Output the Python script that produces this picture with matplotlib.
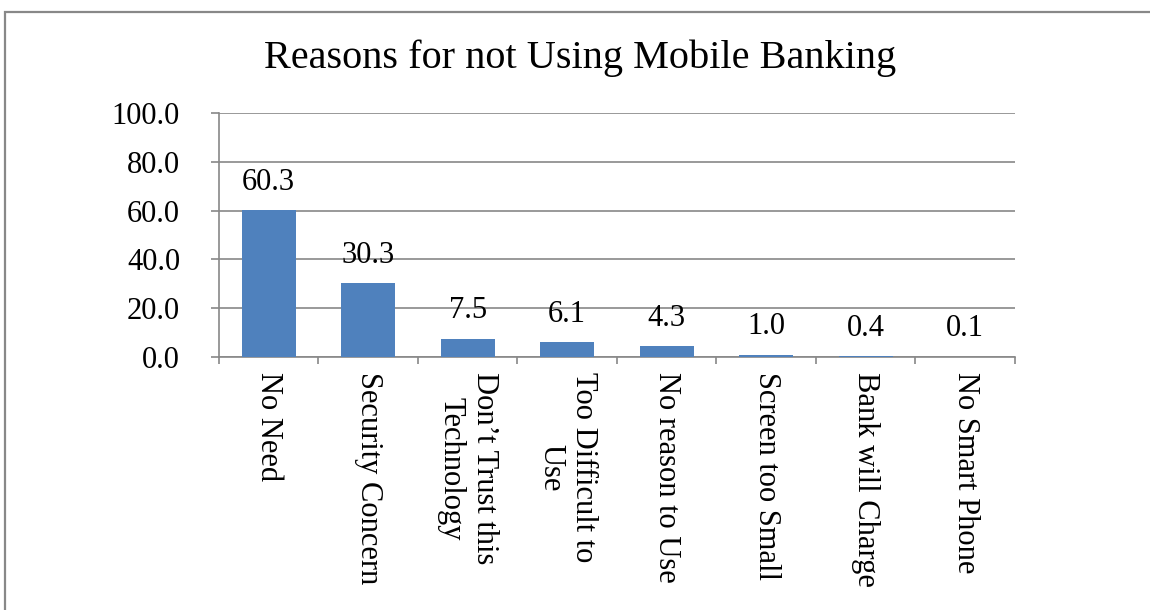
import matplotlib
matplotlib.use('Agg')
import numpy as np
from matplotlib import pyplot as plt
from matplotlib.patches import Rectangle

categories = ['No Need', 'Security Concern', 'Don\u2019t Trust this\nTechnology',
              'Too Difficult to\nUse', 'No reason to Use', 'Screen too Small',
              'Bank will Charge', 'No Smart Phone']
values = [60.3, 30.3, 7.5, 6.1, 4.3, 1.0, 0.4, 0.1]
yticks = [0, 20, 40, 60, 80, 100]

plt.rcParams['font.family'] = ['Liberation Serif', 'DejaVu Serif']

grey = '#888888'
bar_color = '#4f81bd'

fig = plt.figure(figsize=(11.5, 6.1), dpi=100)
ax = fig.add_axes([0.1904, 0.4148, 0.6922, 0.4])

# outer chart border (runs off the right and bottom edges)
fig.patches.append(Rectangle((5 / 1150, -0.1), 1.2, 1 - 12 / 610 + 0.1,
                             transform=fig.transFigure, fill=False,
                             edgecolor=grey, linewidth=1.6, zorder=0))

x = np.arange(len(categories))
bars = ax.bar(x, values, width=0.54, color=bar_color, zorder=3)

for xi, v in zip(x, values):
    ax.annotate(f'{v:.1f}', (xi, v), xytext=(0, 20), textcoords='offset points',
                ha='center', va='center', fontsize=22)

ax.set_xlim(-0.5, len(categories) - 0.5)
ax.set_ylim(0, 100)
ax.set_yticks(yticks)
ax.set_yticklabels([f'{t:.1f}' for t in yticks], fontsize=22)
ax.yaxis.grid(True, color=grey, linewidth=1.2, zorder=0)
ax.tick_params(axis='y', length=6, width=1.2, color=grey, pad=22)

# category labels sit between boundary ticks
ax.set_xticks(x)
ax.set_xticklabels(categories, rotation=270, fontsize=22, va='top', ha='center',
                   multialignment='center')
ax.tick_params(axis='x', length=0, pad=11)
ax.set_xticks(np.arange(len(categories) + 1) - 0.5, minor=True)
ax.tick_params(axis='x', which='minor', length=5, width=1.2, color=grey)

for side in ['top', 'right']:
    ax.spines[side].set_visible(False)
for side in ['left', 'bottom']:
    ax.spines[side].set_color(grey)
    ax.spines[side].set_linewidth(1.2)

fig.text(0.504, 0.905, 'Reasons for not Using Mobile Banking', ha='center',
         va='center', fontsize=29)

plt.savefig('out.png', dpi=100)
